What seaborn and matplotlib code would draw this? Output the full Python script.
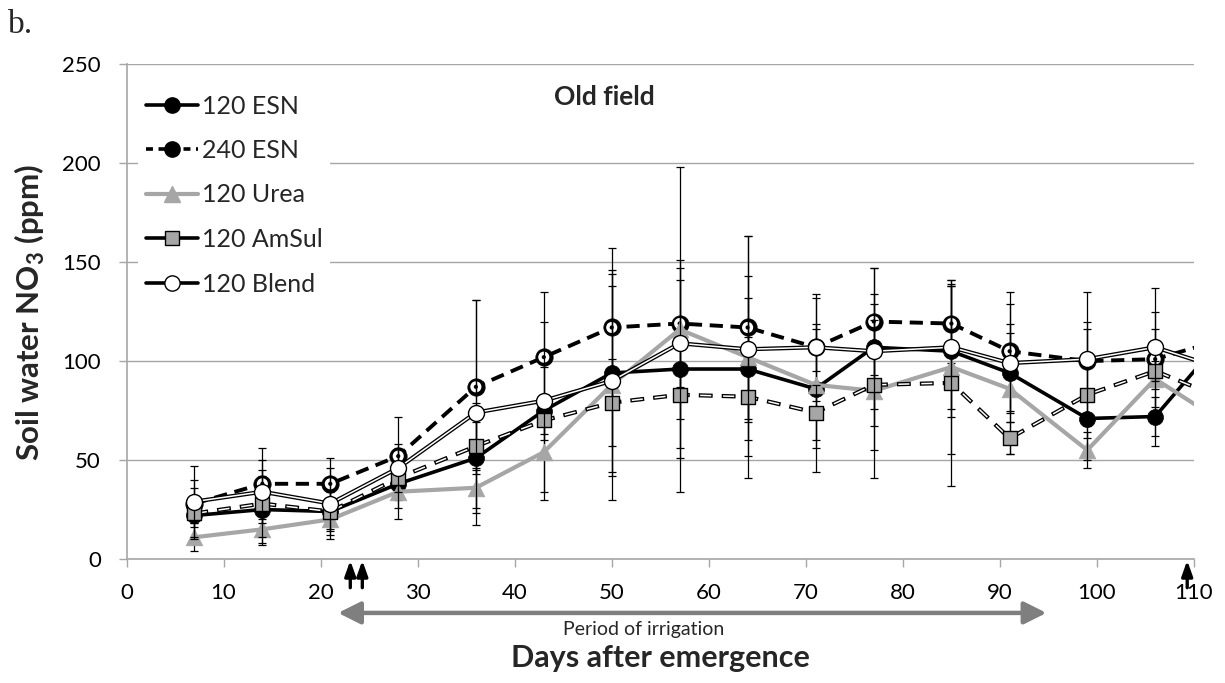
import matplotlib
matplotlib.use("Agg")
import matplotlib.pyplot as plt
from matplotlib.lines import Line2D
import seaborn as sns

# ---------------- data ----------------
days = [7, 14, 21, 28, 36, 43, 50, 57, 64, 71, 77, 85, 91, 99, 106, 113]

esn120 = [22, 25, 24, 38, 51, 75, 94, 96, 96, 86, 107, 105, 94, 71, 72, 112]
esn120_err = [4, 17, 12, 8, 28, 45, 50, 45, 36, 30, 40, 33, 20, 10, 10, 10]

esn240 = [28, 38, 38, 52, 87, 102, 117, 119, 117, 107, 120, 119, 105, 100, 101, 111]
esn240_err = [12, 18, 13, 20, 44, 33, 40, 32, 46, 27, 27, 20, 30, 20, 15, 10]

urea120 = [11, 15, 20, 34, 36, 54, 88, 116, 102, 88, 85, 97, 86, 55, 91, 69]
urea120_err = [7, 8, 5, 14, 10, 20, 58, 82, 61, 44, 44, 44, 33, 9, 34, 10]

amsul120 = [23, 28, 24, 41, 57, 70, 79, 83, 82, 74, 88, 89, 61, 83, 95, 81]
amsul120_err = [13, 17, 10, 15, 12, 10, 22, 27, 30, 14, 33, 52, 8, 33, 5, 10]

blend120 = [29, 34, 28, 46, 74, 80, 90, 109, 106, 107, 105, 107, 99, 101, 107, 96]
blend120_err = [18, 16, 18, 12, 57, 17, 48, 38, 37, 12, 29, 31, 30, 34, 30, 10]

labels = ["120 ESN", "240 ESN", "120 Urea", "120 AmSul", "120 Blend"]
x_ticks = [0, 10, 20, 30, 40, 50, 60, 70, 80, 90, 100, 110]
y_ticks = [0, 50, 100, 150, 200, 250]
fert_days = [23.06, 24.3, 109.3]
irrigation = [21.8, 94.8]

# ---------------- style ----------------
sns.set_theme(style="white")
plt.rcParams['font.family'] = ['Lato', 'DejaVu Sans']
plt.rcParams['lines.scale_dashes'] = False
plt.rcParams['mathtext.fontset'] = 'custom'
plt.rcParams['mathtext.bf'] = 'Lato:bold'
plt.rcParams['mathtext.rm'] = 'Lato'

GRAY = '#a6a6a6'
AXGRAY = '#a6a6a6'

fig = plt.figure(figsize=(12.25, 6.83), dpi=100)
ax = fig.add_axes([126.5 / 1225, 1 - 559 / 683, (1194 - 126.5) / 1225, (559 - 64.3) / 683])

ax.set_xlim(0, 110)
ax.set_ylim(0, 250)
ax.set_xticks(x_ticks)
ax.set_yticks(y_ticks)
ax.set_axisbelow(True)
ax.yaxis.grid(True, color=AXGRAY, lw=1.0)
ax.xaxis.grid(False)
for s in ['top', 'right']:
    ax.spines[s].set_visible(False)
for s in ['left', 'bottom']:
    ax.spines[s].set_color(AXGRAY)
    ax.spines[s].set_linewidth(1.2)
ax.tick_params(axis='x', direction='out', length=5.5, width=1, color=AXGRAY,
               labelsize=16, pad=12, labelcolor='black', bottom=True)
ax.tick_params(axis='y', direction='out', length=5.5, width=1, color=AXGRAY,
               labelsize=16, pad=13, labelcolor='black', left=True)


def errbars(vals, errs, z):
    ax.errorbar(days, vals, yerr=errs, fmt='none', ecolor='black', elinewidth=0.9,
                capsize=3.2, capthick=0.9, zorder=z)


# 120 ESN
z = 2.0
errbars(esn120, esn120_err, z + 0.15)
sns.lineplot(x=days, y=esn120, ax=ax, color='black', linewidth=2.6, errorbar=None,
             zorder=z + 0.1)
sns.scatterplot(x=days, y=esn120, ax=ax, marker='o', s=11.5 ** 2, color='black',
                edgecolor='black', linewidth=0.5, zorder=z + 0.2, legend=False)

# 240 ESN
z = 2.5
sns.lineplot(x=days, y=esn240, ax=ax, color='black', linewidth=2.8, errorbar=None,
             linestyle=(0, (9.5, 5.5)), zorder=z + 0.1)
sns.scatterplot(x=days, y=esn240, ax=ax, marker='o', s=12.5 ** 2, color='black',
                edgecolor='black', linewidth=0.5, zorder=z + 0.2, legend=False)
sns.scatterplot(x=days, y=esn240, ax=ax, marker='o', s=8.0 ** 2, color='white',
                edgecolor='none', linewidth=0, zorder=z + 0.25, legend=False)
errbars(esn240, esn240_err, z + 0.3)
sns.scatterplot(x=days, y=esn240, ax=ax, marker='o', s=3.0 ** 2, color='black',
                edgecolor='none', linewidth=0, zorder=z + 0.35, legend=False)

# 120 Urea
z = 3.0
errbars(urea120, urea120_err, z + 0.05)
sns.lineplot(x=days, y=urea120, ax=ax, color=GRAY, linewidth=3.0, errorbar=None,
             zorder=z + 0.1)
sns.scatterplot(x=days, y=urea120, ax=ax, marker='^', s=12 ** 2, color=GRAY,
                edgecolor=GRAY, linewidth=0.5, zorder=z + 0.2, legend=False)

# 120 AmSul (hollow dashed line)
z = 3.5
errbars(amsul120, amsul120_err, z + 0.05)
sns.lineplot(x=days, y=amsul120, ax=ax, color='black', linewidth=3.0, errorbar=None,
             linestyle=(0, (10, 6.5)), zorder=z + 0.1)
sns.lineplot(x=days, y=amsul120, ax=ax, color='white', linewidth=1.1, errorbar=None,
             linestyle=(15.5, (8, 8.5)), zorder=z + 0.12)
sns.scatterplot(x=days, y=amsul120, ax=ax, marker='s', s=10 ** 2, color=GRAY,
                edgecolor='black', linewidth=1.0, zorder=z + 0.2, legend=False)

# 120 Blend (double line)
z = 4.0
errbars(blend120, blend120_err, z + 0.05)
sns.lineplot(x=days, y=blend120, ax=ax, color='black', linewidth=3.0, errorbar=None,
             zorder=z + 0.1)
sns.lineplot(x=days, y=blend120, ax=ax, color='white', linewidth=1.1, errorbar=None,
             zorder=z + 0.12)
sns.scatterplot(x=days, y=blend120, ax=ax, marker='o', s=11.5 ** 2, color='white',
                edgecolor='black', linewidth=1.0, zorder=z + 0.2, legend=False)

ax.set_xlabel('')
ax.set_ylabel('')

# legend
handles = [
    Line2D([], [], color='black', lw=2.6, marker='o', ms=11, mfc='black', mec='black'),
    Line2D([], [], color='black', lw=2.6, ls=(0, (5.0, 4.0)), marker='o', ms=11,
           mfc='black', mec='black'),
    Line2D([], [], color=GRAY, lw=3.0, marker='^', ms=11, mfc=GRAY, mec=GRAY),
    Line2D([], [], color='black', lw=2.6, marker='s', ms=10, mfc=GRAY, mec='black'),
    Line2D([], [], color='black', lw=2.6, marker='o', ms=11, mfc='white', mec='black'),
]
leg = ax.legend(handles, labels, loc='upper left',
                bbox_to_anchor=(138 / 1225, 1 - 87 / 683), bbox_transform=fig.transFigure,
                frameon=True, facecolor='white', edgecolor='none', framealpha=1,
                fontsize=18, handlelength=2.08, handletextpad=0.16, labelspacing=0.86,
                borderaxespad=0, borderpad=0.3, fancybox=False)
leg.set_zorder(10)

# title inside
ax.text(44.0, 233.5, 'Old field', ha='left', va='center', fontsize=19, fontweight='bold')

# fertilizer arrows
for d in fert_days:
    ax.annotate('', xy=(d, -0.003), xycoords=('data', 'axes fraction'),
                xytext=(d, -0.058), textcoords=('data', 'axes fraction'),
                arrowprops=dict(arrowstyle='-|>,head_length=0.7,head_width=0.25',
                                color='black', lw=2.4, mutation_scale=13,
                                shrinkA=0, shrinkB=0),
                annotation_clip=False)

# irrigation period
ax.annotate('', xy=(irrigation[0], -0.109), xycoords=('data', 'axes fraction'),
            xytext=(irrigation[1], -0.109), textcoords=('data', 'axes fraction'),
            arrowprops=dict(arrowstyle='<|-|>,head_length=0.9,head_width=0.45',
                            color='#7f7f7f', lw=3.2, mutation_scale=15,
                            shrinkA=0, shrinkB=0),
            annotation_clip=False)
ax.text(53.3, -0.1415, 'Period of irrigation', transform=ax.get_xaxis_transform(),
        ha='center', va='center', fontsize=14)

# axis labels
ax.text(55.0, -0.2177, 'Days after emergence', transform=ax.get_xaxis_transform(),
        ha='center', va='baseline', fontsize=22, fontweight='bold')
fig.text(30 / 1225, 1 - 312 / 683, r'Soil water NO$_\mathbf{3}$ (ppm)', rotation=90,
         ha='center', va='center', fontsize=22.5, fontweight='bold')

fig.text(8 / 1225, 1 - 33 / 683, 'b.', fontfamily='Liberation Serif', fontsize=24,
         ha='left', va='baseline')

fig.savefig('out.png', dpi=100)
